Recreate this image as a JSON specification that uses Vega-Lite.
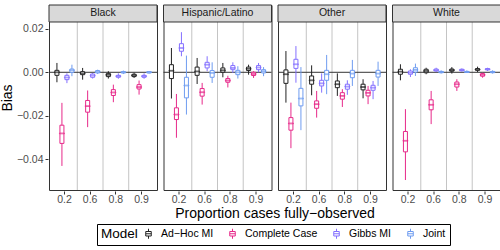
{
  "$schema": "https://vega.github.io/schema/vega-lite/v6.json",
  "padding": {"left": 0, "top": 4, "right": 4, "bottom": 3},
  "background": "white",
  "config": {
    "font": "Liberation Sans",
    "view": {"stroke": "#333333", "strokeWidth": 1},
    "axis": {"labelFont": "Liberation Sans", "labelFontSize": 10.5, "labelColor": "#4d4d4d", "tickColor": "#333333", "tickSize": 3, "domain": false, "titleFont": "Liberation Sans", "titleFontSize": 14, "titleFontWeight": "normal", "titleColor": "black", "labelPadding": 2}
  },
  "datasets": {
    "bias": [
      {"race": "Black", "prop": "0.2", "model": "Ad−Hoc MI", "lo": -0.0046, "q1": -0.0014, "med": 0, "q3": 0.0009, "hi": 0.0043},
      {"race": "Black", "prop": "0.2", "model": "Complete Case", "lo": -0.0432, "q1": -0.0328, "med": -0.0282, "q3": -0.0244, "hi": -0.0141},
      {"race": "Black", "prop": "0.2", "model": "Gibbs MI", "lo": -0.005, "q1": -0.0034, "med": -0.0024, "q3": -0.0014, "hi": -0.0005},
      {"race": "Black", "prop": "0.2", "model": "Joint", "lo": -0.0018, "q1": 0, "med": 0.0009, "q3": 0.0015, "hi": 0.0035},
      {"race": "Black", "prop": "0.6", "model": "Ad−Hoc MI", "lo": -0.0034, "q1": -0.0011, "med": -0.0005, "q3": 0.0003, "hi": 0.002},
      {"race": "Black", "prop": "0.6", "model": "Complete Case", "lo": -0.0253, "q1": -0.0184, "med": -0.0156, "q3": -0.013, "hi": -0.0084},
      {"race": "Black", "prop": "0.6", "model": "Gibbs MI", "lo": -0.0029, "q1": -0.0023, "med": -0.0015, "q3": -0.0008, "hi": -0.0003},
      {"race": "Black", "prop": "0.6", "model": "Joint", "lo": -0.0008, "q1": -0.0003, "med": 0.0002, "q3": 0.0008, "hi": 0.0012},
      {"race": "Black", "prop": "0.8", "model": "Ad−Hoc MI", "lo": -0.0029, "q1": -0.002, "med": -0.0012, "q3": -0.0005, "hi": 0.0005},
      {"race": "Black", "prop": "0.8", "model": "Complete Case", "lo": -0.0138, "q1": -0.0107, "med": -0.0093, "q3": -0.008, "hi": -0.0057},
      {"race": "Black", "prop": "0.8", "model": "Gibbs MI", "lo": -0.003, "q1": -0.0023, "med": -0.0018, "q3": -0.0014, "hi": -0.0005},
      {"race": "Black", "prop": "0.8", "model": "Joint", "lo": -0.0008, "q1": -0.0003, "med": 0, "q3": 0.0003, "hi": 0.0008},
      {"race": "Black", "prop": "0.9", "model": "Ad−Hoc MI", "lo": -0.0026, "q1": -0.002, "med": -0.0014, "q3": -0.0009, "hi": -0.0002},
      {"race": "Black", "prop": "0.9", "model": "Complete Case", "lo": -0.0103, "q1": -0.0077, "med": -0.0068, "q3": -0.0057, "hi": -0.0038},
      {"race": "Black", "prop": "0.9", "model": "Gibbs MI", "lo": -0.003, "q1": -0.0023, "med": -0.0018, "q3": -0.0014, "hi": -0.0005},
      {"race": "Black", "prop": "0.9", "model": "Joint", "lo": -0.0006, "q1": -0.0003, "med": 0, "q3": 0.0003, "hi": 0.0006},
      {"race": "Hispanic/Latino", "prop": "0.2", "model": "Ad−Hoc MI", "lo": -0.0121, "q1": -0.0029, "med": 0.0007, "q3": 0.0035, "hi": 0.0112},
      {"race": "Hispanic/Latino", "prop": "0.2", "model": "Complete Case", "lo": -0.0302, "q1": -0.0218, "med": -0.0195, "q3": -0.0164, "hi": -0.01},
      {"race": "Hispanic/Latino", "prop": "0.2", "model": "Gibbs MI", "lo": 0.0074, "q1": 0.0097, "med": 0.0112, "q3": 0.0132, "hi": 0.0185},
      {"race": "Hispanic/Latino", "prop": "0.2", "model": "Joint", "lo": -0.0195, "q1": -0.0118, "med": -0.0061, "q3": -0.0023, "hi": 0.0077},
      {"race": "Hispanic/Latino", "prop": "0.6", "model": "Ad−Hoc MI", "lo": -0.0054, "q1": -0.0014, "med": 0.0004, "q3": 0.0024, "hi": 0.0066},
      {"race": "Hispanic/Latino", "prop": "0.6", "model": "Complete Case", "lo": -0.0149, "q1": -0.011, "med": -0.0092, "q3": -0.0075, "hi": -0.0049},
      {"race": "Hispanic/Latino", "prop": "0.6", "model": "Gibbs MI", "lo": 0.0005, "q1": 0.002, "med": 0.0035, "q3": 0.0046, "hi": 0.0074},
      {"race": "Hispanic/Latino", "prop": "0.6", "model": "Joint", "lo": -0.0049, "q1": -0.0023, "med": -0.0003, "q3": 0.0008, "hi": 0.0046},
      {"race": "Hispanic/Latino", "prop": "0.8", "model": "Ad−Hoc MI", "lo": -0.0023, "q1": 0, "med": 0.0009, "q3": 0.002, "hi": 0.0043},
      {"race": "Hispanic/Latino", "prop": "0.8", "model": "Complete Case", "lo": -0.007, "q1": -0.0046, "med": -0.0038, "q3": -0.0029, "hi": -0.0016},
      {"race": "Hispanic/Latino", "prop": "0.8", "model": "Gibbs MI", "lo": -0.0003, "q1": 0.0012, "med": 0.002, "q3": 0.0031, "hi": 0.0046},
      {"race": "Hispanic/Latino", "prop": "0.8", "model": "Joint", "lo": -0.0029, "q1": -0.0011, "med": 0, "q3": 0.0009, "hi": 0.0028},
      {"race": "Hispanic/Latino", "prop": "0.9", "model": "Ad−Hoc MI", "lo": -0.0011, "q1": 0.0008, "med": 0.0016, "q3": 0.0024, "hi": 0.0035},
      {"race": "Hispanic/Latino", "prop": "0.9", "model": "Complete Case", "lo": -0.0026, "q1": -0.0015, "med": -0.0008, "q3": 0, "hi": 0.0005},
      {"race": "Hispanic/Latino", "prop": "0.9", "model": "Gibbs MI", "lo": 0, "q1": 0.0012, "med": 0.0022, "q3": 0.0031, "hi": 0.0043},
      {"race": "Hispanic/Latino", "prop": "0.9", "model": "Joint", "lo": -0.0018, "q1": -0.0003, "med": 0.0005, "q3": 0.0012, "hi": 0.0024},
      {"race": "Other", "prop": "0.2", "model": "Ad−Hoc MI", "lo": -0.014, "q1": -0.0051, "med": -0.0009, "q3": 0.0011, "hi": 0.0098},
      {"race": "Other", "prop": "0.2", "model": "Complete Case", "lo": -0.035, "q1": -0.0267, "med": -0.0236, "q3": -0.0209, "hi": -0.014},
      {"race": "Other", "prop": "0.2", "model": "Gibbs MI", "lo": -0.0048, "q1": 0.0018, "med": 0.0037, "q3": 0.006, "hi": 0.0121},
      {"race": "Other", "prop": "0.2", "model": "Joint", "lo": -0.0267, "q1": -0.0155, "med": -0.0121, "q3": -0.0074, "hi": 0.0024},
      {"race": "Other", "prop": "0.6", "model": "Ad−Hoc MI", "lo": -0.0106, "q1": -0.0055, "med": -0.0037, "q3": -0.0017, "hi": 0.0032},
      {"race": "Other", "prop": "0.6", "model": "Complete Case", "lo": -0.0209, "q1": -0.0166, "med": -0.0147, "q3": -0.0132, "hi": -0.0086},
      {"race": "Other", "prop": "0.6", "model": "Gibbs MI", "lo": -0.0094, "q1": -0.0063, "med": -0.0051, "q3": -0.0037, "hi": -0.0005},
      {"race": "Other", "prop": "0.6", "model": "Joint", "lo": -0.0101, "q1": -0.0037, "med": -0.0009, "q3": 0.0009, "hi": 0.008},
      {"race": "Other", "prop": "0.8", "model": "Ad−Hoc MI", "lo": -0.0109, "q1": -0.0071, "med": -0.0055, "q3": -0.004, "hi": -0.0005},
      {"race": "Other", "prop": "0.8", "model": "Complete Case", "lo": -0.016, "q1": -0.0124, "med": -0.0109, "q3": -0.0094, "hi": -0.0078},
      {"race": "Other", "prop": "0.8", "model": "Gibbs MI", "lo": -0.0104, "q1": -0.0078, "med": -0.0066, "q3": -0.0055, "hi": -0.0037},
      {"race": "Other", "prop": "0.8", "model": "Joint", "lo": -0.0063, "q1": -0.0025, "med": -0.0006, "q3": 0.0009, "hi": 0.0057},
      {"race": "Other", "prop": "0.9", "model": "Ad−Hoc MI", "lo": -0.012, "q1": -0.0081, "med": -0.0068, "q3": -0.0055, "hi": -0.0032},
      {"race": "Other", "prop": "0.9", "model": "Complete Case", "lo": -0.0147, "q1": -0.0109, "med": -0.0095, "q3": -0.0083, "hi": -0.0063},
      {"race": "Other", "prop": "0.9", "model": "Gibbs MI", "lo": -0.0124, "q1": -0.0083, "med": -0.0071, "q3": -0.006, "hi": -0.004},
      {"race": "Other", "prop": "0.9", "model": "Joint", "lo": -0.0063, "q1": -0.0022, "med": -0.0006, "q3": 0.0009, "hi": 0.0049},
      {"race": "White", "prop": "0.2", "model": "Ad−Hoc MI", "lo": -0.0037, "q1": -0.0009, "med": 0.0003, "q3": 0.0014, "hi": 0.0037},
      {"race": "White", "prop": "0.2", "model": "Complete Case", "lo": -0.0497, "q1": -0.0367, "med": -0.0316, "q3": -0.0273, "hi": -0.017},
      {"race": "White", "prop": "0.2", "model": "Gibbs MI", "lo": -0.0022, "q1": -0.0009, "med": -0.0002, "q3": 0.0006, "hi": 0.0014},
      {"race": "White", "prop": "0.2", "model": "Joint", "lo": -0.0017, "q1": 0.0001, "med": 0.0011, "q3": 0.0021, "hi": 0.004},
      {"race": "White", "prop": "0.6", "model": "Ad−Hoc MI", "lo": -0.0009, "q1": -0.0002, "med": 0.0006, "q3": 0.0014, "hi": 0.0021},
      {"race": "White", "prop": "0.6", "model": "Complete Case", "lo": -0.0239, "q1": -0.0173, "med": -0.015, "q3": -0.0127, "hi": -0.0086},
      {"race": "White", "prop": "0.6", "model": "Gibbs MI", "lo": 0.0001, "q1": 0.0006, "med": 0.001, "q3": 0.0015, "hi": 0.0021},
      {"race": "White", "prop": "0.6", "model": "Joint", "lo": -0.0006, "q1": -0.0002, "med": 0.0001, "q3": 0.0004, "hi": 0.0009},
      {"race": "White", "prop": "0.8", "model": "Ad−Hoc MI", "lo": -0.0006, "q1": 0.0005, "med": 0.001, "q3": 0.0015, "hi": 0.0024},
      {"race": "White", "prop": "0.8", "model": "Complete Case", "lo": -0.0086, "q1": -0.0068, "med": -0.0055, "q3": -0.0045, "hi": -0.0032},
      {"race": "White", "prop": "0.8", "model": "Gibbs MI", "lo": 0.0003, "q1": 0.0007, "med": 0.001, "q3": 0.0014, "hi": 0.0018},
      {"race": "White", "prop": "0.8", "model": "Joint", "lo": -0.0003, "q1": -0.0001, "med": 0.0001, "q3": 0.0004, "hi": 0.0009},
      {"race": "White", "prop": "0.9", "model": "Ad−Hoc MI", "lo": 0.0001, "q1": 0.0009, "med": 0.0013, "q3": 0.0017, "hi": 0.0026},
      {"race": "White", "prop": "0.9", "model": "Complete Case", "lo": -0.0025, "q1": -0.0018, "med": -0.0012, "q3": -0.0006, "hi": -0.0002},
      {"race": "White", "prop": "0.9", "model": "Gibbs MI", "lo": 0.0006, "q1": 0.0011, "med": 0.0014, "q3": 0.0017, "hi": 0.0021},
      {"race": "White", "prop": "0.9", "model": "Joint", "lo": -0.0006, "q1": -0.0002, "med": 0.0001, "q3": 0.0004, "hi": 0.0009}
    ]
  },
  "data": {"name": "bias"},
  "facet": {"column": {"field": "race", "type": "nominal", "header": {"title": "Proportion cases fully−observed", "titleOrient": "bottom", "labels": false, "titleFontSize": 14, "titleFontWeight": "normal", "titleColor": "black", "titleFont": "Liberation Sans", "titlePadding": -8}}},
  "spacing": 4.5,
  "spec": {
    "width": 108,
    "height": 185,
    "layer": [
      {
        "transform": [{"filter": "datum.model === 'Ad−Hoc MI' && datum.prop !== '0.2'"}],
        "mark": {"type": "rule", "color": "#c4c4c4", "strokeWidth": 1},
        "encoding": {
          "x": {"field": "prop", "type": "ordinal", "bandPosition": 0, "scale": {"type": "band", "paddingInner": 0, "paddingOuter": 0.1}, "axis": {"title": null, "labelAngle": 0, "grid": false, "domain": false, "labelPadding": 0}}
        }
      },
      {
        "transform": [{"filter": "datum.model === 'Ad−Hoc MI' && datum.prop === '0.2'"}],
        "mark": {"type": "rule", "color": "#333333", "strokeWidth": 1},
        "encoding": {
          "y": {"datum": 0, "type": "quantitative"}
        }
      },
      {
        "mark": {"type": "rule", "strokeWidth": 1},
        "encoding": {
          "x": {"field": "prop", "type": "ordinal"},
          "xOffset": {"field": "model", "type": "nominal", "scale": {"paddingInner": 0.2, "paddingOuter": 0.67}},
          "y": {"field": "lo", "type": "quantitative", "title": "Bias", "scale": {"domain": [-0.0543, 0.03104], "nice": false, "zero": false},
            "axis": {"values": [-0.04, -0.02, 0, 0.02], "format": ".2f", "gridColor": "#ebebeb", "gridWidth": 1, "titlePadding": 2}},
          "y2": {"field": "hi"},
          "color": {"field": "model", "type": "nominal", "scale": {"domain": ["Ad−Hoc MI", "Complete Case", "Gibbs MI", "Joint"], "range": ["#222222", "#e7298a", "#8470ff", "#6f9cf0"]},
            "legend": {"orient": "none", "legendX": 48, "legendY": 219, "direction": "horizontal", "title": "Model", "titleOrient": "left", "titleFontSize": 13.5, "titleFontWeight": "normal", "titleColor": "black", "titleFont": "Liberation Sans", "labelFontSize": 10.5, "labelFont": "Liberation Sans", "labelColor": "black", "strokeColor": "black", "padding": 4, "symbolType": "M0,-1V-0.45M0,0.45V1M-0.55,-0.45H0.55V0.45H-0.55ZM-0.55,0H0.55", "symbolSize": 100, "symbolStrokeWidth": 1, "symbolFillColor": "white", "columnPadding": 13, "labelOffset": 7}}
        }
      },
      {
        "mark": {"type": "bar", "filled": false, "fill": "white", "strokeWidth": 1},
        "encoding": {
          "x": {"field": "prop", "type": "ordinal"},
          "xOffset": {"field": "model", "type": "nominal"},
          "y": {"field": "q1", "type": "quantitative"},
          "y2": {"field": "q3"},
          "color": {"field": "model", "type": "nominal"}
        }
      },
      {
        "mark": {"type": "tick", "filled": false, "thickness": 0.8, "strokeWidth": 1, "size": 5},
        "encoding": {
          "x": {"field": "prop", "type": "ordinal"},
          "xOffset": {"field": "model", "type": "nominal"},
          "y": {"field": "med", "type": "quantitative"},
          "color": {"field": "model", "type": "nominal"}
        }
      },
      {
        "transform": [{"filter": "datum.model === 'Ad−Hoc MI' && datum.prop === '0.2'"}],
        "mark": {"type": "rect", "fill": "#d9d9d9", "stroke": "#333333", "strokeWidth": 1},
        "encoding": {
          "y": {"datum": 0.0232, "type": "quantitative"},
          "y2": {"datum": 0.03104}
        }
      },
      {
        "transform": [{"filter": "datum.model === 'Ad−Hoc MI' && datum.prop === '0.2'"}],
        "mark": {"type": "text", "fontSize": 10.5, "color": "#1a1a1a", "baseline": "middle", "align": "center", "font": "Liberation Sans"},
        "encoding": {
          "y": {"datum": 0.02712, "type": "quantitative"},
          "text": {"field": "race", "type": "nominal"}
        }
      }
    ]
  }
}
